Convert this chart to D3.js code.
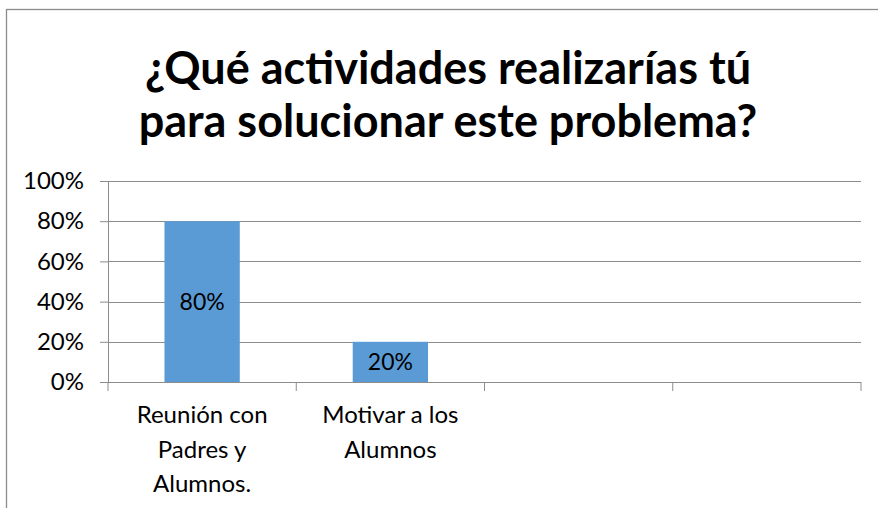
<!DOCTYPE html>
<html>
<head>
<meta charset="utf-8">
<script src="https://cdn.jsdelivr.net/npm/d3@7"></script>
<style>
  html, body { margin: 0; padding: 0; background: #fff; }
  svg { display: block; font-family: Lato, "Open Sans", sans-serif; }
</style>
</head>
<body>
<div id="chart"></div>
<script>
// Chart data
var titleLines = ["¿Qué actividades realizarías tú", "para solucionar este problema?"];
var categoryLines = [
    ["Reunión con", "Padres y", "Alumnos."],
    ["Motivar a los", "Alumnos"],
    [],
    []
];
var values = [0.8, 0.2, null, null];
var yTicks = [0, 0.2, 0.4, 0.6, 0.8, 1.0];

(function () {
    "use strict";

    var W = 878, H = 508;
    var margin = { top: 181, right: 17, bottom: 126, left: 108 };
    var width = W - margin.left - margin.right;
    var height = H - margin.top - margin.bottom;

    var svg = d3.select("#chart").append("svg")
        .attr("width", W)
        .attr("height", H);

    // chart frame (cropped on the right and bottom)
    svg.append("rect")
        .attr("x", 6.5).attr("y", 9.5)
        .attr("width", W + 20).attr("height", H + 20)
        .attr("fill", "#fff")
        .attr("stroke", "#8c8c8c")
        .attr("stroke-width", 1.3);

    // title
    svg.append("text")
        .attr("x", 448)
        .attr("text-anchor", "middle")
        .attr("font-weight", "bold")
        .attr("font-size", "45px")
        .attr("fill", "#000")
        .selectAll("tspan")
        .data(titleLines)
        .enter().append("tspan")
        .attr("x", 448)
        .attr("y", function (d, i) { return 84 + i * 53; })
        .text(function (d) { return d; });

    var g = svg.append("g")
        .attr("transform", "translate(" + margin.left + "," + margin.top + ")");

    var x = d3.scaleBand()
        .domain(d3.range(values.length))
        .range([0, width])
        .paddingInner(0.6)
        .paddingOuter(0.3);

    var xCell = d3.scaleBand()
        .domain(d3.range(values.length))
        .range([0, width]);

    var y = d3.scaleLinear().domain([0, 1]).range([height, 0]);

    // gridlines
    g.append("g")
        .selectAll("line")
        .data(yTicks.slice(1))
        .enter().append("line")
        .attr("x1", 0).attr("x2", width)
        .attr("y1", function (d) { return Math.round(y(d)) + 0.5; })
        .attr("y2", function (d) { return Math.round(y(d)) + 0.5; })
        .attr("stroke", "#8c8c8c")
        .attr("stroke-width", 1);

    // y axis
    var yAxis = g.append("g")
        .call(d3.axisLeft(y).tickValues(yTicks).tickSize(8).tickPadding(16)
            .tickFormat(d3.format(".0%")));
    yAxis.select(".domain").attr("stroke", "#8c8c8c");
    yAxis.selectAll(".tick line").attr("stroke", "#8c8c8c");
    yAxis.selectAll(".tick text")
        .attr("font-family", "Lato, sans-serif")
        .attr("font-size", "24px")
        .attr("fill", "#000");

    // bars
    var barData = values.map(function (v, i) { return { i: i, v: v }; })
        .filter(function (d) { return d.v !== null; });

    g.selectAll(".bar")
        .data(barData)
        .enter().append("rect")
        .attr("class", "bar")
        .attr("x", function (d) { return x(d.i); })
        .attr("width", x.bandwidth())
        .attr("y", function (d) { return y(d.v); })
        .attr("height", function (d) { return height - y(d.v); })
        .attr("fill", "#5b9bd5");

    // data labels
    g.selectAll(".val")
        .data(barData)
        .enter().append("text")
        .attr("class", "val")
        .attr("x", function (d) { return x(d.i) + x.bandwidth() / 2; })
        .attr("y", function (d) { return (y(d.v) + height) / 2; })
        .attr("dy", "0.35em")
        .attr("text-anchor", "middle")
        .attr("font-size", "23px")
        .attr("fill", "#000")
        .text(function (d) { return d3.format(".0%")(d.v); });

    // x axis
    var xAxisG = g.append("g")
        .attr("transform", "translate(0," + height + ")");
    xAxisG.append("line")
        .attr("x1", 0).attr("x2", width)
        .attr("y1", 0.5).attr("y2", 0.5)
        .attr("stroke", "#8c8c8c");
    xAxisG.selectAll(".xtick")
        .data(d3.range(values.length + 1))
        .enter().append("line")
        .attr("class", "xtick")
        .attr("x1", function (d) { return d < values.length ? xCell(d) : width; })
        .attr("x2", function (d) { return d < values.length ? xCell(d) : width; })
        .attr("y1", 0).attr("y2", 9)
        .attr("stroke", "#8c8c8c");

    // category labels
    xAxisG.selectAll(".cat")
        .data(categoryLines)
        .enter().append("text")
        .attr("class", "cat")
        .attr("text-anchor", "middle")
        .attr("font-size", "24px")
        .attr("fill", "#000")
        .each(function (lines, i) {
            var cx = xCell(i) + xCell.bandwidth() / 2;
            d3.select(this).selectAll("tspan")
                .data(lines)
                .enter().append("tspan")
                .attr("x", cx)
                .attr("y", function (d, j) { return 41 + j * 34.5; })
                .text(function (d) { return d; });
        });
})();
</script>
</body>
</html>
